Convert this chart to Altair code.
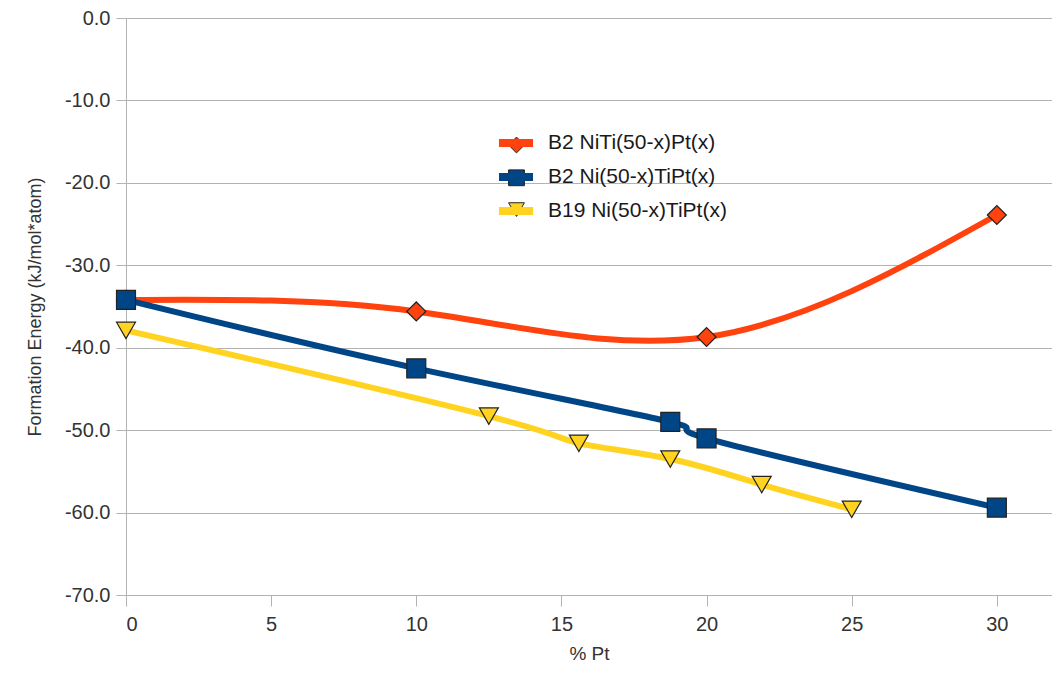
import altair as alt
import pandas as pd

series_names = ["B2 NiTi(50-x)Pt(x)", "B2 Ni(50-x)TiPt(x)", "B19 Ni(50-x)TiPt(x)"]

red_x = [0, 10, 20, 30]
red_y = [-34.2, -35.6, -38.7, -23.9]

blue_x = [0, 10, 18.75, 20, 30]
blue_y = [-34.2, -42.5, -49.0, -51.0, -59.4]

yellow_x = [0, 12.5, 15.6, 18.75, 21.9, 25]
yellow_y = [-37.9, -48.3, -51.6, -53.5, -56.6, -59.6]

colors = ["#ff420e", "#004586", "#ffd320"]
shapes = ["diamond", "square", "triangle-down"]

rows = []
for name, xs, ys in zip(series_names, [red_x, blue_x, yellow_x], [red_y, blue_y, yellow_y]):
    for i, (xv, yv) in enumerate(zip(xs, ys)):
        rows.append({"series": name, "marker": name + " ", "x": xv, "y": yv, "order": i})
df = pd.DataFrame(rows)
marker_names = [n + " " for n in series_names]

FONT = "Liberation Sans"
GRID = "#b3b3b3"
TXT = "#333333"

xenc = alt.X("x:Q", title="% Pt",
             scale=alt.Scale(domain=[0, 31.9], nice=False, zero=False),
             axis=alt.Axis(values=[0, 5, 10, 15, 20, 25, 30], grid=False,
                           tickSize=11, labelPadding=8, titlePadding=10,
                           labelFontSize=20, titleFontSize=19, domainColor=GRID,
                           tickColor=GRID, labelColor=TXT, titleColor=TXT,
                           labelFont=FONT, titleFont=FONT, titleFontWeight="normal"))
yenc = alt.Y("y:Q", title="Formation Energy (kJ/mol*atom)",
             scale=alt.Scale(domain=[-70, 0], nice=False),
             axis=alt.Axis(values=[0, -10, -20, -30, -40, -50, -60, -70],
                           labelExpr="(datum.value < 0 ? '-' : '') + format(abs(datum.value), '.1f')",
                           grid=True, gridColor=GRID, tickSize=10, labelPadding=6,
                           titlePadding=20, labelFontSize=20, titleFontSize=18,
                           domainColor=GRID, tickColor=GRID,
                           labelColor=TXT, titleColor=TXT,
                           labelFont=FONT, titleFont=FONT, titleFontWeight="normal"))

base = alt.Chart(df)

lines = base.mark_line(strokeWidth=6, interpolate="natural").encode(
    x=xenc, y=yenc, order="order:O",
    stroke=alt.Stroke("series:N", sort=series_names,
                      scale=alt.Scale(domain=series_names, range=colors),
                      legend=alt.Legend(title=None, orient="none", legendX=372.5, legendY=107.5,
                                        symbolType="M-1.26,0H1.26", symbolSize=729,
                                        symbolStrokeWidth=8, labelFontSize=21,
                                        labelFont=FONT, labelColor="#1a1a1a",
                                        labelLimit=400, rowPadding=0, labelOffset=14.5)),
)

points = base.mark_point(filled=True, opacity=1, strokeWidth=1.2, stroke="#222222", size=360).encode(
    x=xenc, y=yenc,
    fill=alt.Fill("marker:N", sort=marker_names,
                  scale=alt.Scale(domain=marker_names, range=colors),
                  legend=alt.Legend(title=None, orient="none", legendX=382, legendY=118.5,
                                    symbolSize=250, symbolStrokeColor="#222222",
                                    symbolStrokeWidth=1, labelFontSize=16,
                                    labelExpr="''", rowPadding=11.8)),
    shape=alt.Shape("marker:N", sort=marker_names,
                    scale=alt.Scale(domain=marker_names, range=shapes)),
)

chart = alt.layer(lines, points).resolve_legend(stroke="independent").properties(
    width=926, height=577,
    autosize=alt.AutoSizeParams(type="none"),
    padding={"left": 118, "top": 10, "right": 0, "bottom": 74},
    background="white",
).configure_view(stroke=None)

chart.save("out.html", embed_options={"renderer": "svg", "actions": False})
